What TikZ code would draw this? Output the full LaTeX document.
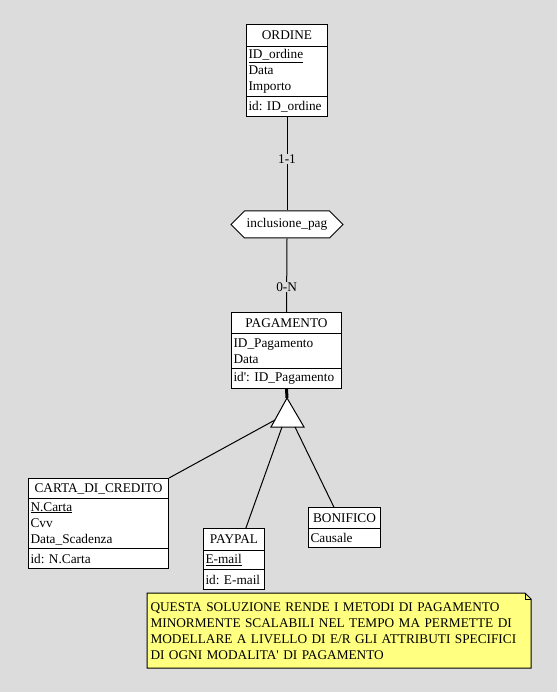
\documentclass[tikz,border=0pt]{standalone}
\usepackage{fontspec}
\setmainfont{Liberation Serif}
\usetikzlibrary{shapes.symbols}
\definecolor{bgray}{RGB}{220,220,220}
\definecolor{notey}{RGB}{255,255,128}
\tikzset{
  ename/.style={draw, fill=white, anchor=north west, minimum width=#1, minimum height=21, inner sep=0pt},
  eattr/.style={draw, fill=white, anchor=north west, text width=#1, align=left, inner xsep=2pt, inner ysep=0pt},
  card/.style={fill=bgray, inner sep=1pt},
}
\frenchspacing
\begin{document}
\begin{tikzpicture}[x=1pt, y=-1pt, line width=1pt, font=\fontsize{13.3}{16}\selectfont]
\fill[bgray] (0,0) rectangle (557,692);
\useasboundingbox (0,0) rectangle (557,692);

% ORDINE
\node[ename=81, minimum height=22] (ordT) at (246,24) {ORDINE};
\node[eattr=77, minimum height=50] (ordA) at (246,46) {\underline{ID\_ordine}\\Data\\Importo};
\node[eattr=77, minimum height=20] (ordI) at (246,96) {id: ID\_ordine};

% relationship
\node[draw, fill=white, signal, signal to=west and east, signal pointer angle=90,
      minimum width=112, minimum height=27, inner sep=2pt] (incl) at (287,224.5) {inclusione\_pag};

% PAGAMENTO
\node[ename=110] (pagT) at (231,312) {PAGAMENTO};
\node[eattr=106, minimum height=35] (pagA) at (231,333) {ID\_Pagamento\\Data};
\node[eattr=106, minimum height=20] (pagI) at (231,368) {id\textquotesingle: ID\_Pagamento};

\draw (ordI.south) -- node[card, pos=0.45] (c11) {1-1} (incl.north);
\draw (incl.south) -- node[card, pos=0.66] (c0n) {0-N} (pagT.north);

% generalization
\coordinate (isa) at (287,398);
\draw[line width=3pt] (pagI.south) -- (isa);
\draw[fill=white, line join=miter] (isa) -- (271,427) -- (304,427) -- cycle;
\coordinate (isaL) at (275,420);
\coordinate (isaM) at (282,427);
\coordinate (isaR) at (295,427);

% sub entities
\node[ename=140, minimum height=20] (carT) at (28,478) {CARTA\_DI\_CREDITO};
\node[eattr=136, minimum height=50] (carA) at (28,498) {\underline{N.Carta}\\Cvv\\Data\_Scadenza};
\node[eattr=136, minimum height=20] (carI) at (28,548) {id: N.Carta};

\node[ename=61, minimum height=22] (payT) at (203,528) {PAYPAL};
\node[eattr=57, minimum height=19] (payA) at (203,550) {\underline{E-mail}};
\node[eattr=57, minimum height=20] (payI) at (203,569) {id: E-mail};

\node[ename=72] (bonT) at (308,507) {BONIFICO};
\node[eattr=68, minimum height=19] (bonA) at (308,528) {Causale};

\draw (isaL) -- (carT.north east);
\draw (isaM) -- (payT.44);
\draw (isaR) -- (bonT.134);

% note
\coordinate (noteNW) at (147,593);
\coordinate (noteSE) at (531,668);
\coordinate (noteNE) at (noteSE |- noteNW);
\coordinate (foldA) at ([xshift=-6pt]noteNE);
\coordinate (foldB) at ([yshift=-6pt]noteNE);
\draw[fill=notey, line join=miter] (noteNW) -- (foldA) -- (foldB) -- (noteSE) -- (noteNW |- noteSE) -- cycle;
\draw[line width=0.6pt] (foldA) |- (foldB);
\node[anchor=north west, text width=378, align=left, inner xsep=3pt, inner ysep=0pt, minimum height=75] (note) at (noteNW)
  {QUESTA SOLUZIONE RENDE I METODI DI PAGAMENTO\\
   MINORMENTE SCALABILI NEL TEMPO MA PERMETTE DI\\
   MODELLARE A LIVELLO DI E/R GLI ATTRIBUTI SPECIFICI\\
   DI OGNI MODALITA\textquotesingle{} DI PAGAMENTO};
\end{tikzpicture}
\end{document}
